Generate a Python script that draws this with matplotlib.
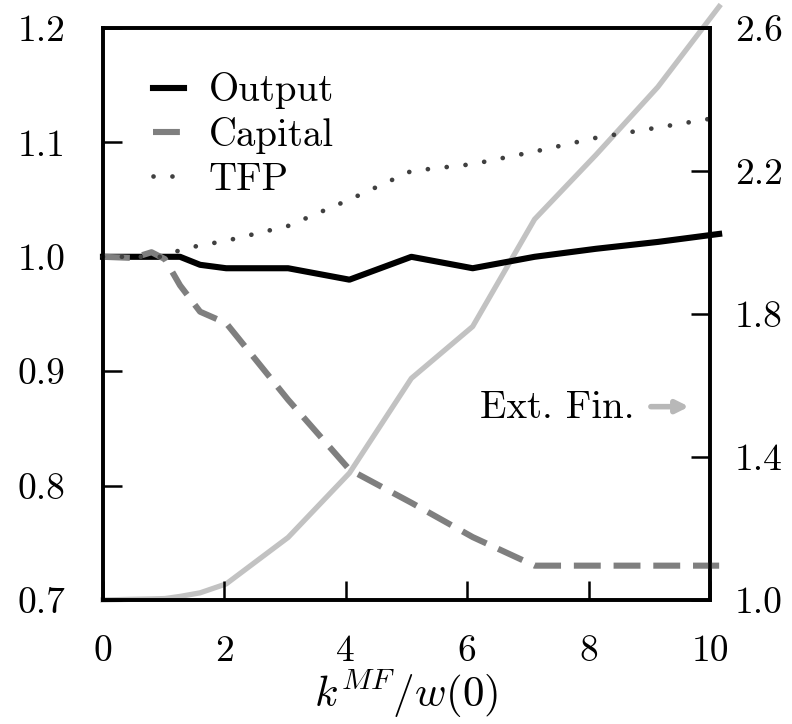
import matplotlib
matplotlib.use("Agg")
import matplotlib.pyplot as plt

plt.rcParams['font.family'] = ['cmr10', 'DejaVu Serif']
plt.rcParams['mathtext.fontset'] = 'cm'
plt.rcParams['axes.formatter.use_mathtext'] = True

x = [0, 0.5, 0.8, 1.02, 1.27, 1.6, 2.03, 3.05, 4.06, 5.08, 6.09, 7.11, 8.12, 9.14, 10.15]
output = [1.0, 1.0, 1.0, 1.0, 1.0, 0.993, 0.99, 0.99, 0.98, 1.0, 0.99, 1.0, 1.007, 1.013, 1.02]
capital = [1.0, 0.999, 1.004, 0.998, 0.975, 0.952, 0.942, 0.875, 0.814, 0.785, 0.755, 0.73, 0.73, 0.73, 0.73]
tfp = [1.0, 1.0, 1.0, 1.0, 1.006, 1.01, 1.014, 1.027, 1.05, 1.075, 1.081, 1.092, 1.104, 1.113, 1.122]
extfin = [1.0, 1.002, 1.003, 1.004, 1.01, 1.02, 1.045, 1.175, 1.355, 1.62, 1.765, 2.065, 2.245, 2.435, 2.66]

xticks = [0, 2, 4, 6, 8, 10]
yticks_left = [0.7, 0.8, 0.9, 1.0, 1.1, 1.2]
yticks_right = [1.0, 1.4, 1.8, 2.2, 2.6]

fig = plt.figure(figsize=(7.92, 7.24), dpi=100)
ax = fig.add_axes([0.130, 0.1713, 0.7665, 0.79])
ax2 = ax.twinx()

ax2.plot(x, extfin, color='#c2c2c2', lw=3.8, clip_on=False, zorder=1)
ax.set_zorder(ax2.get_zorder() + 1)
ax.patch.set_visible(False)

l1, = ax.plot(x, output, color='black', lw=4.4, clip_on=False, label='Output')
l2, = ax.plot(x, capital, color='#7f7f7f', lw=4.4, clip_on=False,
              dashes=(4.4, 2.1), label='Capital')
l3, = ax.plot(x, tfp, color='#404040', lw=3.4, clip_on=False,
              dashes=(0.01, 4.0), dash_capstyle='round', label='TFP')

ax.set_xlim(0, 10)
ax.set_ylim(0.7, 1.2)
ax2.set_ylim(1.0, 2.6)
ax.set_xticks(xticks)
ax.set_yticks(yticks_left)
ax2.set_yticks(yticks_right)
ax.set_xticklabels([str(v) for v in xticks])
ax.set_yticklabels([f"{v:.1f}" for v in yticks_left])
ax2.set_yticklabels([f"{v:.1f}" for v in yticks_right])

for a in (ax, ax2):
    a.tick_params(direction='in', length=14, width=1.8, labelsize=27)
    for s in a.spines.values():
        s.set_linewidth(2.6)
ax.tick_params(axis='y', pad=27)
ax.tick_params(axis='x', pad=25)
ax2.tick_params(axis='y', pad=18)

ax.set_xlabel(r'$k^{MF}/w(0)$', fontsize=31, labelpad=0)

leg = ax.legend(handles=[l1, l2, l3], loc='upper left', frameon=False,
                fontsize=28, handlelength=0.82, handletextpad=0.62,
                labelspacing=0.2, borderaxespad=0.0,
                bbox_to_anchor=(0.056, 0.95))

ax.text(0.876, 0.336, 'Ext. Fin.', fontsize=28, ha='right', va='center',
        transform=ax.transAxes)
ax.annotate('', xy=(0.97, 0.338), xytext=(0.898, 0.338),
            xycoords='axes fraction', textcoords='axes fraction',
            arrowprops=dict(arrowstyle='-|>', color='#b8b8b8', lw=4,
                            mutation_scale=18))

fig.savefig('out.png', dpi=100)
